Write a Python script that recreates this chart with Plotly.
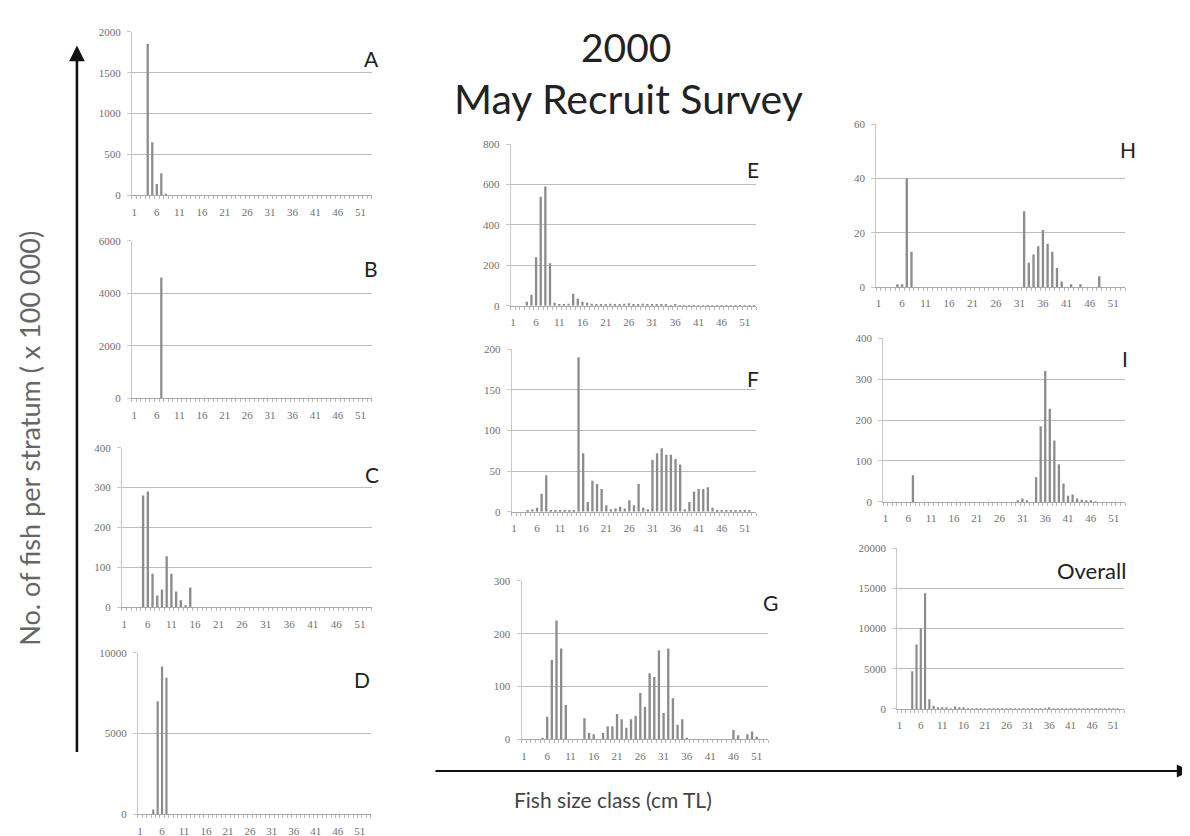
import plotly.graph_objects as go

W, H = 1190, 836

cats = list(range(1, 54))
tick_vals = [1, 6, 11, 16, 21, 26, 31, 36, 41, 46, 51]
tick_text = [str(v) for v in tick_vals]

a_vals = [0, 0, 0, 1850, 650, 140, 270, 20, 0, 0,
          0, 0, 0, 0, 0, 0, 0, 0, 0, 0,
          0, 0, 0, 0, 0, 0, 0, 0, 0, 0,
          0, 0, 0, 0, 0, 0, 0, 0, 0, 0,
          0, 0, 0, 0, 0, 0, 0, 0, 0, 0,
          0, 0, 0]
b_vals = [0, 0, 0, 0, 0, 0, 4600, 0, 0, 0,
          0, 0, 0, 0, 0, 0, 0, 0, 0, 0,
          0, 0, 0, 0, 0, 0, 0, 0, 0, 0,
          0, 0, 0, 0, 0, 0, 0, 0, 0, 0,
          0, 0, 0, 0, 0, 0, 0, 0, 0, 0,
          0, 0, 0]
c_vals = [0, 0, 0, 0, 280, 290, 84, 30, 45, 128,
          84, 40, 18, 5, 50, 0, 0, 0, 0, 0,
          0, 0, 0, 0, 0, 0, 0, 0, 0, 0,
          0, 0, 0, 0, 0, 0, 0, 0, 0, 0,
          0, 0, 0, 0, 0, 0, 0, 0, 0, 0,
          0, 0, 0]
d_vals = [0, 0, 0, 300, 7000, 9150, 8450, 0, 0, 0,
          0, 0, 0, 0, 0, 0, 0, 0, 0, 0,
          0, 0, 0, 0, 0, 0, 0, 0, 0, 0,
          0, 0, 0, 0, 0, 0, 0, 0, 0, 0,
          0, 0, 0, 0, 0, 0, 0, 0, 0, 0,
          0, 0, 0]
e_vals = [0, 0, 0, 20, 55, 240, 540, 590, 210, 15,
          5, 5, 10, 60, 35, 20, 15, 10, 8, 6,
          8, 10, 6, 8, 10, 12, 8, 6, 10, 8,
          5, 6, 4, 5, 3, 4, 3, 2, 3, 2,
          2, 2, 3, 2, 2, 2, 3, 2, 2, 2,
          2, 3, 2]
f_vals = [0, 0, 0, 1, 3, 5, 22, 45, 1, 1,
          1, 1, 1, 1, 190, 72, 12, 38, 34, 28,
          8, 3, 4, 6, 4, 14, 8, 34, 5, 3,
          64, 72, 78, 70, 70, 65, 58, 3, 12, 25,
          28, 28, 30, 5, 2, 1, 1, 1, 1, 1,
          1, 1, 0]
g_vals = [0, 0, 0, 0, 2, 43, 150, 225, 172, 65,
          0, 0, 0, 40, 12, 10, 0, 12, 25, 25,
          48, 38, 22, 38, 45, 88, 62, 125, 118, 168,
          50, 172, 78, 28, 38, 3, 0, 0, 0, 0,
          0, 0, 0, 0, 0, 18, 8, 0, 10, 15,
          5, 0, 0]
h_vals = [0, 0, 0, 0, 1, 1, 40, 13, 0, 0,
          0, 0, 0, 0, 0, 0, 0, 0, 0, 0,
          0, 0, 0, 0, 0, 0, 0, 0, 0, 0,
          0, 28, 9, 12, 15, 21, 16, 13, 7, 2,
          0, 1, 0, 1, 0, 0, 0, 4, 0, 0,
          0, 0, 0]
i_vals = [0, 0, 0, 0, 0, 0, 65, 0, 0, 0,
          0, 0, 0, 0, 0, 0, 0, 0, 0, 0,
          0, 0, 0, 0, 0, 0, 0, 0, 0, 3,
          8, 2, 0, 60, 185, 320, 228, 150, 92, 45,
          15, 18, 8, 5, 3, 2, 1, 0, 0, 0,
          0, 0, 0]
overall_vals = [0, 0, 0, 4700, 8000, 10000, 14400, 1200, 400, 200,
                100, 100, 80, 300, 150, 100, 80, 60, 50, 50,
                50, 40, 40, 40, 50, 40, 40, 50, 40, 40,
                60, 40, 40, 50, 80, 120, 80, 60, 40, 30,
                30, 30, 20, 20, 10, 10, 10, 10, 10, 10,
                10, 10, 0]

# (label, values, x0, x1, y_top_px, y_zero_px, ymax, dtick, label_pos, label_size)
panels = [
    ("A", a_vals, 123, 363, 18, 184, 2000, 500, (363, 45), 21),
    ("B", b_vals, 123, 363, 230, 390, 6000, 2000, (362, 258), 21),
    ("C", c_vals, 113, 363, 440, 602, 400, 100, (363, 467), 21),
    ("D", d_vals, 129, 362, 648, 812, 10000, 5000, (353, 675), 21),
    ("E", e_vals, 502, 748, 132, 296, 800, 200, (745, 158), 21),
    ("F", f_vals, 503, 748, 340, 505, 200, 50, (745, 370), 21),
    ("G", g_vals, 513, 760, 575, 736, 300, 100, (762, 597), 21),
    ("H", h_vals, 868, 1117, 112, 277, 60, 20, (1120, 137), 21),
    ("I", i_vals, 875, 1117, 329, 495, 400, 100, (1117, 350), 21),
    ("Overall", overall_vals, 889, 1116, 542, 705, 20000, 5000, (1083, 565), 22),
]

tick_font = dict(family="Liberation Serif", size=11, color="#707070")
fig = go.Figure()
layout = {}
annotations = []

for k, (lab, vals, x0, x1, yt, yb, ymax, dt, lpos, lsize) in enumerate(panels):
    n = "" if k == 0 else str(k + 1)
    fig.add_trace(go.Bar(
        x=cats, y=vals, xaxis="x" + n, yaxis="y" + n,
        marker=dict(color="#8c8c8c", line=dict(width=0)),
        width=0.5, showlegend=False, hoverinfo="skip"))
    layout["xaxis" + n] = dict(
        domain=[x0 / W, x1 / W], anchor="y" + n, range=[0.5, 53.5],
        tickmode="array", tickvals=tick_vals, ticktext=tick_text,
        showgrid=False, zeroline=False, showline=True, linecolor="#a8a8a8",
        ticks="", tickfont=tick_font, ticklabelstandoff=6,
        minor=dict(tickmode="linear", tick0=0.5, dtick=1, ticks="outside",
                   ticklen=3, tickcolor="#b8b8b8"),
        fixedrange=True)
    layout["yaxis" + n] = dict(
        domain=[1 - yb / H, 1 - yt / H], anchor="x" + n, range=[0, ymax],
        tick0=0, dtick=dt, tickformat="d", showgrid=True, gridcolor="#bcbcbc",
        gridwidth=1, zeroline=False, showline=True, linecolor="#c8c8c8",
        ticks="outside", ticklen=4, tickcolor="#c8c8c8",
        tickfont=tick_font, ticklabelstandoff=4, fixedrange=True)
    annotations.append(dict(
        text=lab, x=lpos[0] / W, y=1 - lpos[1] / H, xref="paper", yref="paper",
        showarrow=False, xanchor="center", yanchor="middle",
        font=dict(family="Lato", size=lsize, color="#222222")))

annotations += [
    dict(text="2000", x=618 / W, y=1 - 33 / H, xref="paper", yref="paper",
         xanchor="center", yanchor="middle", showarrow=False,
         font=dict(family="Lato", size=39, color="#222222")),
    dict(text="May Recruit Survey", x=620 / W, y=1 - 86 / H, xref="paper", yref="paper",
         xanchor="center", yanchor="middle", showarrow=False,
         font=dict(family="Lato", size=41, color="#222222")),
    dict(text="No. of fish per stratum ( x 100 000)", x=21 / W, y=1 - 430 / H,
         xref="paper", yref="paper", xanchor="center", yanchor="middle",
         showarrow=False, textangle=-90,
         font=dict(family="Lato", size=27, color="#666666")),
    dict(text="Fish size class (cm TL)", x=605 / W, y=1 - 797 / H,
         xref="paper", yref="paper", xanchor="center", yanchor="middle",
         showarrow=False, font=dict(family="Lato", size=21, color="#444444")),
    dict(text="", x=1182 / W, y=1 - 768 / H, xref="paper", yref="paper",
         ax=-756, ay=0, axref="pixel", ayref="pixel", showarrow=True,
         arrowhead=2, arrowsize=1.2, arrowwidth=2.2, arrowcolor="#111111"),
    dict(text="", x=68 / W, y=1 - 32 / H, xref="paper", yref="paper",
         ax=0, ay=708, axref="pixel", ayref="pixel", showarrow=True,
         arrowhead=2, arrowsize=1.2, arrowwidth=2.6, arrowcolor="#111111"),
]

fig.update_layout(
    width=W, height=H, margin=dict(l=0, r=0, t=0, b=0),
    paper_bgcolor="white", plot_bgcolor="white",
    bargap=0.4, annotations=annotations, **layout)

fig.write_html("out.html")
